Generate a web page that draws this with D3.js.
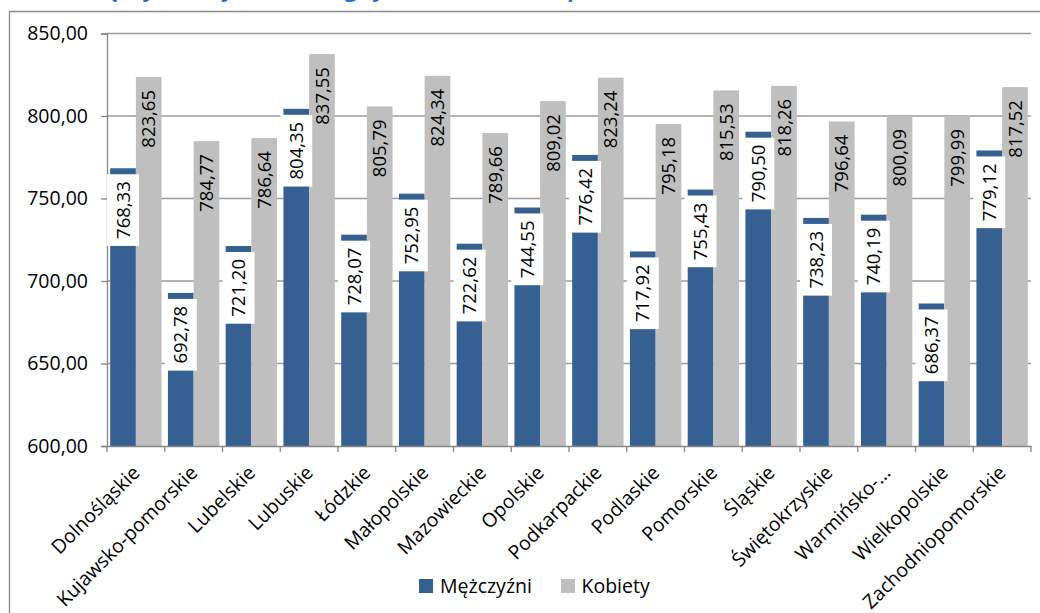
<!DOCTYPE html>
<html><head><meta charset="utf-8">
<script src="https://cdn.jsdelivr.net/npm/d3@7"></script>
<style>html,body{margin:0;padding:0;background:#fff;}svg{display:block;font-family:"Open Sans",sans-serif;}</style>
</head><body>
<svg id="c" width="1040" height="613"></svg>
<script>
const categories = ["Dolnośląskie","Kujawsko-pomorskie","Lubelskie","Lubuskie","Łódzkie","Małopolskie","Mazowieckie","Opolskie","Podkarpackie","Podlaskie","Pomorskie","Śląskie","Świętokrzyskie","Warmińsko-…","Wielkopolskie","Zachodniopomorskie"];
const men = [768.33,692.78,721.20,804.35,728.07,752.95,722.62,744.55,776.42,717.92,755.43,790.50,738.23,740.19,686.37,779.12];
const women = [823.65,784.77,786.64,837.55,805.79,824.34,789.66,809.02,823.24,795.18,815.53,818.26,796.64,800.09,799.99,817.52];
const seriesNames = ["Mężczyźni","Kobiety"];
const yTicks = [600,650,700,750,800,850];
const titleText = "Przeciętny roczny dochód wg tytułu świadczeń i płci";

const colors = ["#376092","#BFBFBF"];
const svg = d3.select("#c");
const L=107, R=1031, T=33.5, B=446;
const fmt = v => v.toFixed(2).replace(".", ",");

// frame & title (title is cut off at the top edge, as in the reference)
svg.append("text").attr("x",40).attr("y",-3).attr("font-weight","bold").attr("font-size",22).attr("fill","#1F73C4").text(titleText);
svg.append("path").attr("d","M9.5,613V11.5H1040").attr("fill","none").attr("stroke","#868686").attr("stroke-width",1.3);

const y = d3.scaleLinear().domain([600,850]).range([B,T]);
const x = d3.scaleBand().domain(categories).range([L,R]).paddingInner(0).paddingOuter(0);
const x1 = d3.scaleBand().domain([0,1]).range([0,x.bandwidth()]).paddingInner(0).paddingOuter(0.1235);

// gridlines
svg.append("g").selectAll("line").data(yTicks.slice(1)).join("line")
  .attr("x1",L).attr("x2",R).attr("y1",d=>y(d)).attr("y2",d=>y(d))
  .attr("stroke","#9a9a9a").attr("stroke-width",1.3);

// y axis
const yAxis = svg.append("g").attr("transform",`translate(${L},0)`)
  .call(d3.axisLeft(y).tickValues(yTicks).tickFormat(fmt).tickSize(6).tickPadding(13));
yAxis.select(".domain").attr("stroke","#868686").attr("stroke-width",1.3);
yAxis.selectAll(".tick line").attr("stroke","#868686").attr("stroke-width",1.3);
yAxis.selectAll("text").attr("font-size",19.5).attr("fill","#000").attr("font-family","Open Sans");

// bars
const data = categories.map((c,i)=>({c, v:[men[i],women[i]]}));
const groups = svg.append("g").selectAll("g").data(data).join("g").attr("transform",d=>`translate(${x(d.c)},0)`);
groups.selectAll("rect").data(d=>d.v.map((v,k)=>({v,k}))).join("rect")
  .attr("x",d=>x1(d.k)).attr("width",x1.bandwidth())
  .attr("y",d=>y(d.v)).attr("height",d=>B-y(d.v)).attr("fill",d=>colors[d.k]);

// x axis
const xAxis = svg.append("g").attr("transform",`translate(0,${B})`)
  .call(d3.axisBottom(x).tickSize(0).tickFormat(""));
xAxis.select(".domain").attr("stroke","#868686").attr("stroke-width",1.3);
xAxis.selectAll(".tick").remove();
const bounds = categories.map(c=>x(c)).concat([R]);
svg.append("g").selectAll("line").data(bounds).join("line")
  .attr("x1",d=>d).attr("x2",d=>d).attr("y1",B).attr("y2",B+6)
  .attr("stroke","#868686").attr("stroke-width",1.3);

// category labels
svg.append("g").selectAll("text").data(categories).join("text")
  .attr("transform",d=>`translate(${x(d)+x.bandwidth()/2+5},474) rotate(-45)`)
  .attr("text-anchor","end").attr("font-size",19.5).attr("fill","#000").text(d=>d);

// data labels
const lbl = svg.append("g");
data.forEach(d=>{
  d.v.forEach((v,k)=>{
    const cx = x(d.c)+x1(k)+x1.bandwidth()/2;
    const g = lbl.append("g");
    const t = g.append("text").attr("transform",`translate(${cx},${y(v)+13}) rotate(-90)`)
      .attr("text-anchor","end").attr("dy","0.36em").attr("font-size",18.5).attr("fill","#000").text(fmt(v));
    if(k===0){
      const len = t.node().getComputedTextLength();
      g.insert("rect","text").attr("x",cx-16).attr("width",32).attr("y",y(v)+6).attr("height",len+14).attr("fill","#fff");
    }
  });
});

// legend
const leg = svg.append("g");
leg.append("rect").attr("x",419).attr("y",579).attr("width",14).attr("height",14).attr("fill",colors[0]);
leg.append("text").attr("x",440).attr("y",593).attr("font-size",19.5).attr("fill","#000").text(seriesNames[0]);
leg.append("rect").attr("x",561).attr("y",579).attr("width",14).attr("height",14).attr("fill",colors[1]);
leg.append("text").attr("x",581.5).attr("y",593).attr("font-size",19.5).attr("fill","#000").text(seriesNames[1]);
</script>
</body></html>
